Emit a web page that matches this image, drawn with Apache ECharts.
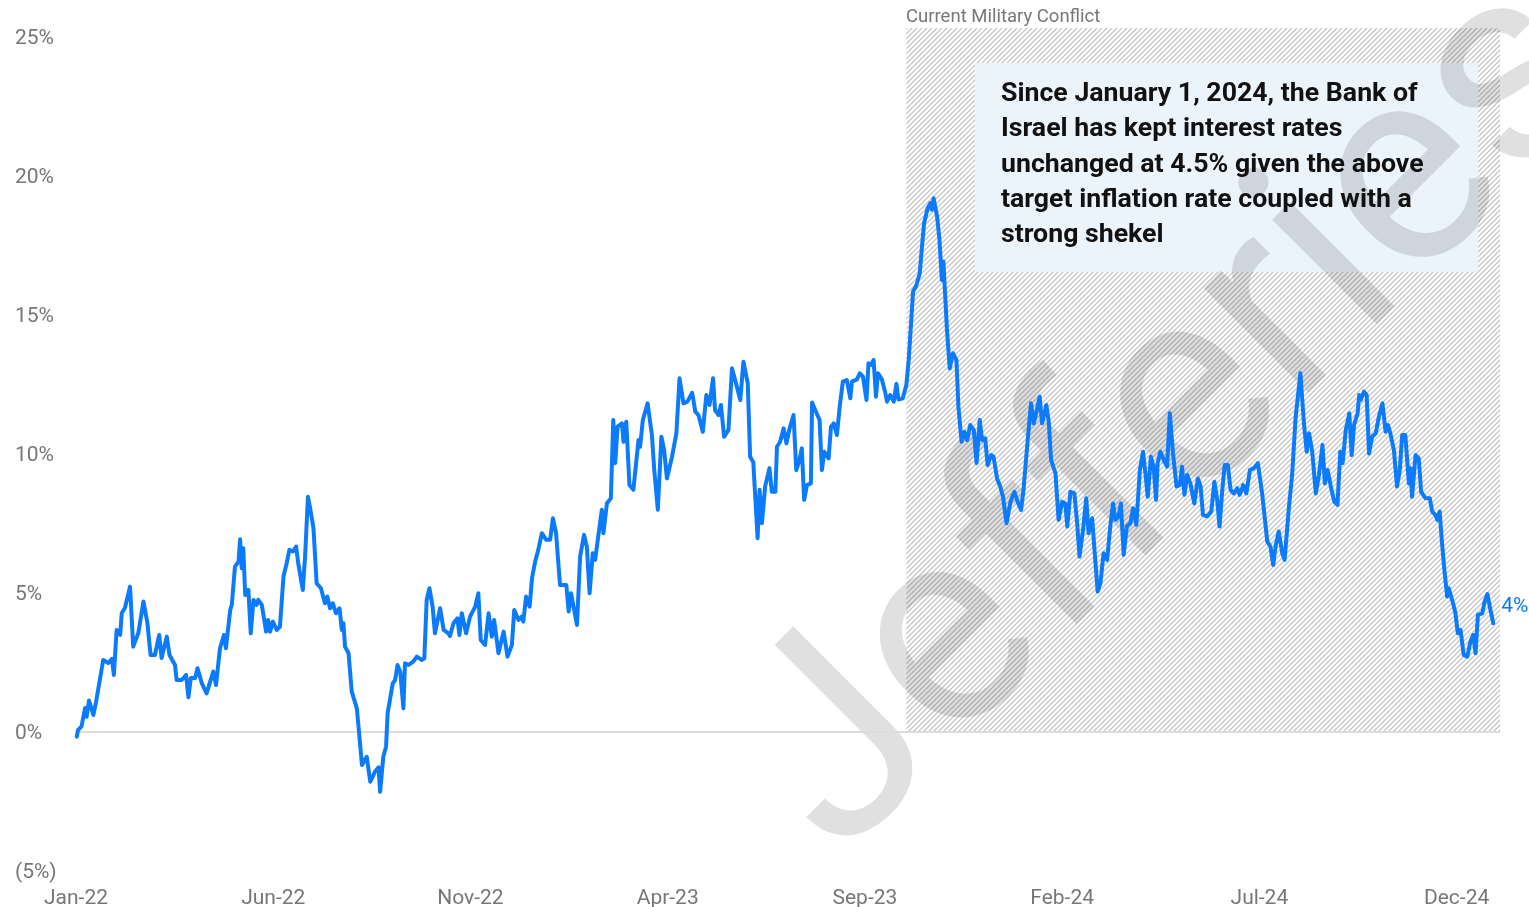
<!DOCTYPE html>
<html>
<head>
<meta charset="utf-8">
<script src="https://cdn.jsdelivr.net/npm/echarts@6/dist/echarts.min.js"></script>
<style>
html,body{margin:0;padding:0;background:#fff;}
#chart{width:1529px;height:907px;}
</style>
</head>
<body>
<div id="chart"></div>
<script>
// x positions in months since Jan-2022 (0 = Jan 1, 2022)
const monthsX = [0.02,0.05,0.14,0.23,0.27,0.33,0.44,0.51,0.69,0.82,0.91,0.96,1.03,1.12,1.16,1.24,1.37,1.45,1.58,1.71,1.81,1.89,2.00,2.11,2.17,2.30,2.37,2.51,2.55,2.68,2.79,2.85,2.91,3.02,3.08,3.19,3.31,3.48,3.55,3.65,3.75,3.80,3.91,3.95,4.03,4.12,4.16,4.20,4.24,4.29,4.37,4.43,4.50,4.58,4.62,4.71,4.82,4.87,4.92,4.99,5.09,5.17,5.26,5.34,5.41,5.50,5.58,5.64,5.75,5.81,5.88,5.93,6.02,6.10,6.21,6.31,6.37,6.44,6.51,6.59,6.68,6.74,6.78,6.82,6.91,6.99,7.12,7.25,7.37,7.46,7.58,7.67,7.71,7.79,7.86,7.90,8.03,8.09,8.15,8.22,8.30,8.34,8.43,8.55,8.64,8.77,8.83,8.89,8.96,
9.04,9.10,9.23,9.32,9.44,9.48,9.57,9.67,9.72,9.78,9.89,9.99,10.12,10.20,10.26,10.37,10.46,10.54,10.60,10.71,10.84,10.94,11.05,11.11,11.22,11.30,11.34,11.41,11.50,11.56,11.64,11.72,11.81,11.92,12.02,12.09,12.17,12.27,12.43,12.49,12.55,12.70,12.78,12.88,12.95,13.02,13.10,13.16,13.25,13.33,13.37,13.46,13.56,13.62,13.67,13.73,13.84,13.88,13.95,14.03,14.13,14.26,14.30,14.37,14.49,14.60,14.66,14.75,14.84,14.91,14.98,15.11,15.22,15.30,15.40,15.50,15.62,15.70,15.78,15.89,15.98,16.06,16.15,16.20,16.29,16.35,16.43,16.54,16.63,16.71,16.84,16.92,17.03,17.09,17.17,17.28,17.33,17.39,17.47,17.58,17.64,17.73,17.77,17.85,17.94,18.01,18.09,18.19,18.26,18.34,18.40,18.46,18.53,18.63,18.66,18.74,18.85,18.91,18.97,19.08,19.14,19.21,19.29,19.36,19.44,19.54,19.63,19.67,19.80,19.87,19.95,20.04,20.09,20.15,20.22,20.28,20.33,20.43,20.52,20.56,20.64,20.73,20.80,20.85,20.96,
21.05,21.11,21.17,21.22,21.30,21.39,21.45,21.50,21.59,21.66,21.70,21.74,21.83,21.89,21.95,21.99,22.08,22.15,22.23,22.32,22.37,22.45,22.52,22.59,22.67,22.76,22.83,22.91,22.97,23.05,23.11,23.20,23.26,23.35,23.43,23.50,23.59,23.69,23.79,23.87,23.96,24.02,24.13,24.21,24.28,24.36,24.43,24.49,24.60,24.66,24.72,24.83,24.91,25.00,25.08,25.13,25.21,25.31,25.38,25.44,25.53,25.61,25.67,25.76,25.82,25.90,25.97,26.05,26.14,26.22,26.29,26.35,26.43,26.49,26.56,26.64,26.73,26.80,26.88,26.97,27.05,27.11,27.17,27.25,27.32,27.38,27.42,27.49,27.58,27.66,27.73,27.81,27.90,27.98,28.04,28.10,28.17,28.25,28.35,28.44,28.51,28.57,28.68,28.78,28.86,28.93,28.99,29.06,29.12,29.20,29.27,29.35,29.44,29.50,29.59,29.67,29.76,29.86,29.96,
30.07,30.20,30.28,30.35,30.41,30.49,30.58,30.64,30.75,30.83,30.92,31.04,31.13,31.20,31.26,31.34,31.43,31.51,31.60,31.66,31.73,31.81,31.90,31.98,32.05,32.11,32.19,32.28,32.34,32.40,32.49,32.53,32.57,32.65,32.72,32.78,32.86,32.95,33.03,33.12,33.20,33.26,33.32,33.41,33.49,33.56,33.62,33.70,33.79,33.83,33.87,33.96,34.04,34.10,34.21,34.32,34.38,34.46,34.51,34.57,34.63,34.69,34.76,34.80,34.91,34.97,35.03,35.10,35.18,35.27,35.35,35.42,35.48,35.54,35.65,35.71,35.78,35.84,35.93];

// Rate (%) at each point
const rateValues = [-0.17,0.07,0.2,0.86,0.55,1.13,0.61,1.09,2.59,2.48,2.63,2.05,3.67,3.49,4.28,4.46,5.23,3.07,3.56,4.69,3.92,2.77,2.77,3.49,2.66,3.43,2.77,2.41,1.87,1.87,2.05,1.25,1.94,1.94,2.29,1.75,1.39,2.17,1.69,3.01,3.49,3.01,4.39,4.57,5.95,6.13,6.93,5.89,6.61,4.93,5.11,3.55,4.75,4.57,4.75,4.57,3.61,4.03,3.61,3.97,3.67,3.79,5.59,6.07,6.55,6.49,6.67,6.01,5.11,6.37,8.46,8.1,7.33,5.35,5.17,4.63,4.87,4.45,4.63,4.27,4.45,3.67,3.91,3.07,2.83,1.45,0.85,-1.19,-0.89,-1.79,-1.43,-1.27,-2.15,-0.89,-0.53,0.67,1.75,1.87,2.41,2.17,0.85,2.47,2.41,2.53,2.71,2.59,2.65,4.75,5.17,
4.51,3.55,4.45,3.67,3.55,3.45,3.91,4.09,3.49,4.27,3.55,4.15,4.51,4.99,3.31,3.13,4.27,3.43,4.03,2.83,3.61,2.71,3.13,4.39,4.03,4.15,3.97,4.87,4.51,5.53,6.13,6.55,7.15,6.91,6.91,7.69,7.15,5.29,5.29,4.33,4.99,3.85,6.31,7.09,6.67,4.99,6.43,6.19,7.15,7.99,7.15,8.23,8.41,11.22,9.67,10.98,11.1,10.44,11.16,8.88,8.71,10.5,10.26,11.22,11.82,10.68,9.42,7.99,10.62,10.14,9.12,9.9,10.74,12.72,11.82,11.88,12.2,11.52,11.4,10.8,12.12,11.76,12.72,11.58,11.4,11.76,10.62,10.86,13.08,12.66,11.94,13.32,12.54,9.9,9.7,6.97,8.71,7.51,8.83,9.49,8.64,8.64,10.26,10.44,10.92,10.38,10.92,11.4,9.42,9.78,10.2,8.35,8.88,8.94,11.85,11.58,11.22,9.42,10.08,9.84,10.98,11.1,10.68,11.7,12.6,12.66,12.0,12.6,12.68,12.9,12.78,11.94,13.26,13.2,13.38,12.06,12.9,12.68,12.18,11.88,12.12,11.88,12.52,11.96,12.0,
12.48,13.38,14.7,15.84,16.04,16.5,17.52,18.3,18.84,19.02,18.78,19.2,18.54,17.7,16.26,16.92,14.46,13.08,13.62,13.38,11.7,10.44,10.8,10.5,11.04,10.86,9.67,11.22,10.5,10.56,9.6,9.96,9.9,9.12,8.83,8.46,7.51,8.28,8.64,8.28,7.99,8.71,10.56,11.82,11.1,11.58,12.06,11.1,11.76,11.16,9.78,9.31,7.63,8.28,8.22,7.39,8.64,8.58,7.51,6.31,7.27,8.41,7.15,7.69,6.55,5.05,5.35,6.43,6.19,7.39,8.22,7.63,7.75,8.22,6.37,7.39,7.51,8.05,7.45,9.42,10.08,9.31,8.46,9.9,9.54,8.35,9.67,10.08,9.78,9.54,11.46,10.02,8.83,8.88,9.54,8.53,9.24,8.94,8.22,9.12,8.83,7.81,7.75,7.93,9.0,8.35,7.39,8.71,9.6,9.6,8.71,8.58,8.77,8.53,8.88,8.58,9.42,9.49,9.67,
8.58,6.85,6.67,6.01,6.67,7.21,6.43,6.19,8.1,9.24,11.34,12.9,11.1,10.08,10.74,10.08,8.58,9.24,10.32,8.94,9.42,8.83,8.28,8.17,10.08,9.67,10.86,11.46,9.96,11.04,11.46,12.12,11.94,12.24,12.12,10.02,10.62,10.74,11.34,11.82,10.8,11.04,10.74,10.14,8.83,9.42,10.68,10.68,8.94,9.49,8.46,9.96,9.84,8.64,8.41,8.41,7.93,7.81,7.63,7.93,6.79,5.83,4.87,5.17,4.63,4.27,3.55,3.67,2.77,2.71,3.25,3.49,2.83,4.21,4.27,4.69,4.96,4.51,3.91];

const xTickLabels = ['Jan-22','Jun-22','Nov-22','Apr-23','Sep-23','Feb-24','Jul-24','Dec-24'];
const xTickStep = 5;          // months between labels
const yTickStep = 5;
const yMin = -5;
const yTopLabel = 25;
const conflictStart = 21.05;  // Oct 7, 2023 in months since Jan-22
const conflictEnd = 36.1;
const conflictTop = 25.32;
const endLabelText = '4%';
const conflictLabel = 'Current Military Conflict';
const noteLines = ['Since January 1, 2024, the Bank of', 'Israel has kept interest rates', 'unchanged at 4.5% given the above', 'target inflation rate coupled with a', 'strong shekel'];

const seriesData = monthsX.map((m, i) => [m, rateValues[i]]);

// hatch pattern
const pc = document.createElement('canvas');
const P = 5;
pc.width = P; pc.height = P;
const g = pc.getContext('2d');
g.strokeStyle = '#c6c6c6';
g.lineWidth = 1.3;
g.beginPath();
g.moveTo(-1, P + 1); g.lineTo(P + 1, -1);
g.moveTo(-1, 1); g.lineTo(1, -1);
g.moveTo(P - 1, P + 1); g.lineTo(P + 1, P - 1);
g.stroke();

const chart = echarts.init(document.getElementById('chart'), null, {renderer: 'canvas'});
const FONT = 'Roboto, sans-serif';
chart.setOption({
  animation: false,
  backgroundColor: '#ffffff',
  grid: {left: 76, right: 29, top: 28, bottom: 36, containLabel: false, outerBoundsMode: 'none'},
  xAxis: {
    type: 'value', min: 0, max: conflictEnd, interval: xTickStep,
    axisLine: {show: false}, axisTick: {show: false}, splitLine: {show: false},
    axisLabel: {
      color: '#777', fontSize: 21, fontFamily: FONT, margin: 17,
      showMaxLabel: false,
      formatter: v => {
        const k = v / xTickStep;
        return Number.isInteger(k) && xTickLabels[k] ? xTickLabels[k] : '';
      }
    }
  },
  yAxis: {
    type: 'value', min: yMin, max: conflictTop, interval: yTickStep,
    axisLine: {show: false}, axisTick: {show: false}, splitLine: {show: false},
    axisLabel: {
      color: '#777', fontSize: 21, fontFamily: FONT, align: 'left', margin: 61,
      formatter: v => {
        if (Math.abs(v / yTickStep - Math.round(v / yTickStep)) > 1e-6 || v > yTopLabel) return '';
        return '{t|' + (v < 0 ? '(' + (-v) + '%)' : v + '%') + '}';
      },
      rich: {t: {color: '#777', fontSize: 21, fontFamily: FONT, padding: [4, 0, 0, 0]}}
    }
  },
  series: [
    {
      type: 'line', z: 1, clip: false, data: [], silent: true,
      markArea: {
        silent: true,
        itemStyle: {color: {image: pc, repeat: 'repeat'}},
        data: [[{xAxis: conflictStart, yAxis: 0}, {xAxis: conflictEnd, yAxis: conflictTop}]]
      },
      markLine: {
        silent: true, symbol: 'none', label: {show: false},
        lineStyle: {color: '#dcdcdc', width: 2, type: 'solid'},
        data: [{yAxis: 0}]
      }
    },
    {
      type: 'line', z: 5, data: seriesData, showSymbol: false, symbol: 'none',
      lineStyle: {color: '#0b7bfb', width: 4, join: 'round', cap: 'round'},
      endLabel: {
        show: true, formatter: endLabelText, color: '#0b7bfb', fontSize: 21,
        fontFamily: FONT, offset: [2, -17], distance: 6
      }
    }
  ],
  graphic: [
    {type: 'rect', z: 2, shape: {x: 975, y: 63, width: 503, height: 209}, style: {fill: '#ebf3fb'}},
    {type: 'text', z: 3, x: 1179, y: 423, rotation: Math.PI / 4,
      style: {text: 'Jefferies', fontSize: 280, fontFamily: FONT, fill: 'rgba(0,0,0,0.12)', align: 'center', verticalAlign: 'middle'}},
    {type: 'text', z: 4, x: 1001, y: 77, style: {text: noteLines.join('\n'), fontSize: 26.7, fontWeight: 'bold', fontFamily: FONT, fill: '#111', lineHeight: 35.2, verticalAlign: 'top'}},
    {type: 'text', z: 4, x: 906, y: 17, style: {text: conflictLabel, fontSize: 18.5, fontFamily: FONT, fill: '#777', verticalAlign: 'middle'}}
  ]
});
</script>
</body>
</html>
